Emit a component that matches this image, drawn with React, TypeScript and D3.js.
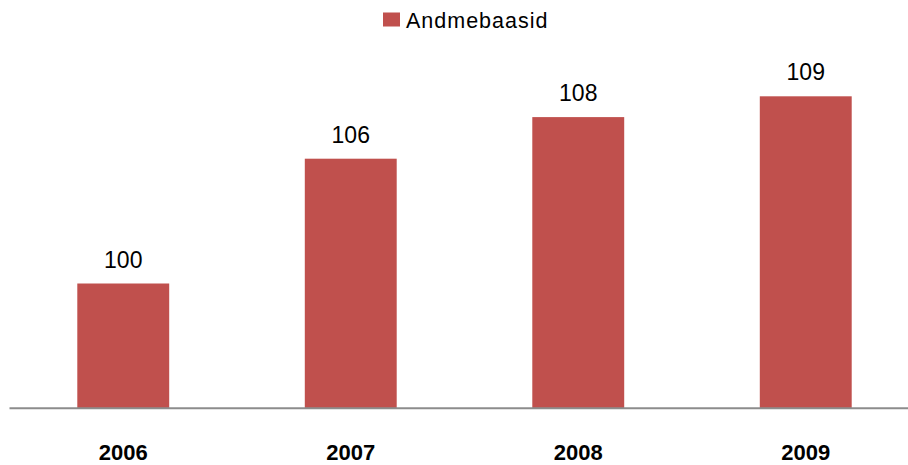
import React from 'react';
import { scaleBand, scaleLinear } from 'd3';

const years: string[] = ['2006', '2007', '2008', '2009'];
const values: number[] = [100, 106, 108, 109];
const seriesName = 'Andmebaasid';

const dims = {
  width: 908,
  height: 465,
  baseline: 408.3,
  top: 75.5,
  left: 9.5,
  right: 919.5,
};

const color = '#C0504D';
const font = '"Liberation Sans", Arial, sans-serif';

function App() {
  const x = scaleBand()
    .domain(years)
    .range([dims.left, dims.right])
    .paddingInner(0.596)
    .paddingOuter(0.298);
  const y = scaleLinear().domain([94, 110]).range([dims.baseline, dims.top]);

  return (
    <svg
      width={dims.width}
      height={dims.height}
      style={{ position: 'absolute', left: 0, top: 0 }}
    >
      <rect width={dims.width} height={dims.height} fill="#fff" />
      {/* legend */}
      <rect x={383} y={12.5} width={17} height={14} fill={color} />
      <text
        x={406}
        y={27.5}
        fontFamily={font}
        fontSize={21.5}
        letterSpacing={1}
        fill="#000"
      >
        {seriesName}
      </text>
      {/* bars */}
      {years.map((yr, i) => (
        <g key={yr}>
          <rect
            x={x(yr)!}
            y={y(values[i])}
            width={x.bandwidth()}
            height={dims.baseline - y(values[i])}
            fill={color}
          />
          <text
            x={x(yr)! + x.bandwidth() / 2}
            y={y(values[i]) - 16}
            textAnchor="middle"
            fontFamily={font}
            fontSize={23}
            fill="#000"
          >
            {values[i]}
          </text>
          <text
            x={x(yr)! + x.bandwidth() / 2}
            y={460}
            textAnchor="middle"
            fontFamily={font}
            fontSize={22}
            fontWeight="bold"
            fill="#000"
          >
            {yr}
          </text>
        </g>
      ))}
      <line
        x1={dims.left}
        x2={dims.width}
        y1={dims.baseline}
        y2={dims.baseline}
        stroke="#8c8c8c"
        strokeWidth={2}
      />
    </svg>
  );
}

export default App;
